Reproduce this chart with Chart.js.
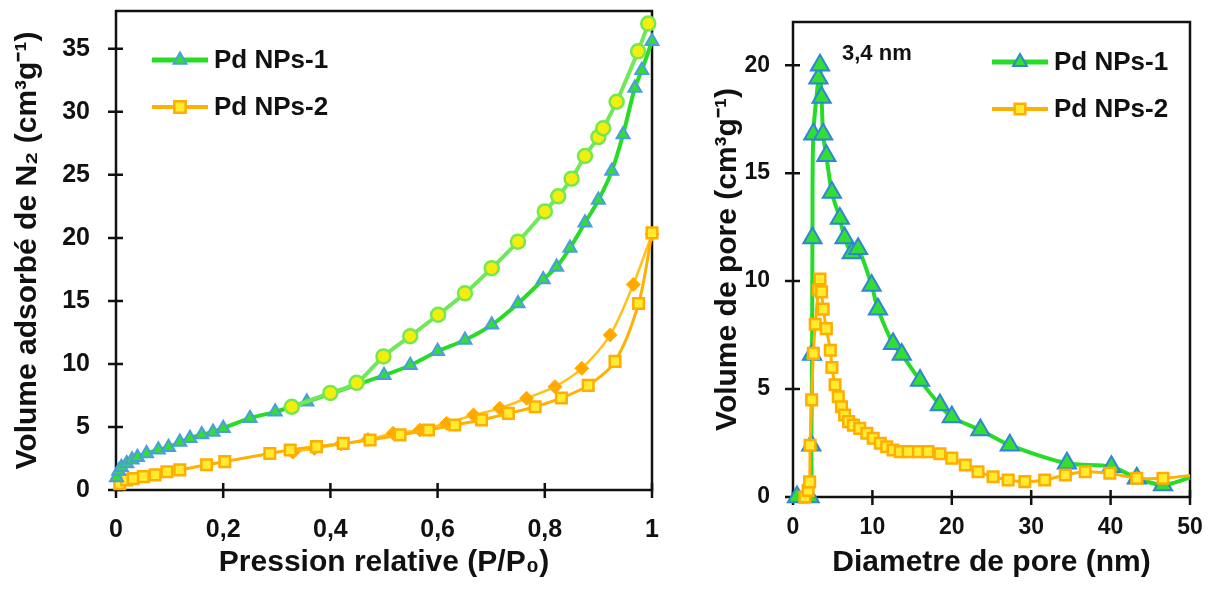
<!DOCTYPE html>
<html>
<head>
<meta charset="utf-8">
<script src="https://cdn.jsdelivr.net/npm/chart.js@4.4.1/dist/chart.umd.min.js"></script>
<style>
  body { margin: 0; background: #fff; }
  #iso { position: absolute; left: 0; top: 0; }
  #psd { position: absolute; left: 690px; top: 0; }
</style>
</head>
<body>
<canvas id="iso" width="670" height="590"></canvas>
<canvas id="psd" width="525" height="590"></canvas>
<script>
// series names and annotation
const seriesNames = ['Pd NPs-1', 'Pd NPs-2'];
const peakLabel = '3,4 nm';

// tick values
const isoXTicks = [0, 0.2, 0.4, 0.6, 0.8, 1];
const isoYTicks = [0, 5, 10, 15, 20, 25, 30, 35];
const psdXTicks = [0, 10, 20, 30, 40, 50];
const psdYTicks = [0, 5, 10, 15, 20];

// isotherms, Pd NPs-1 (adsorption / desorption)
const np1AdsP = [0.001, 0.005, 0.01, 0.02, 0.03, 0.04, 0.057, 0.079, 0.098, 0.119, 0.138, 0.16, 0.181, 0.2, 0.25, 0.297, 0.356, 0.5, 0.549, 0.6, 0.651, 0.701, 0.75, 0.797, 0.822, 0.847, 0.875, 0.9, 0.925, 0.946, 0.968, 0.981, 1.0];
const np1AdsV = [1.0, 1.5, 1.8, 2.1, 2.4, 2.6, 2.9, 3.2, 3.4, 3.8, 4.1, 4.4, 4.6, 4.9, 5.7, 6.2, 7.0, 9.1, 9.9, 11.0, 11.9, 13.1, 14.8, 16.7, 17.7, 19.2, 21.2, 23.0, 25.3, 28.2, 31.9, 33.3, 35.6];
const np1DesP = [0.328, 0.4, 0.449, 0.499, 0.549, 0.601, 0.651, 0.701, 0.75, 0.8, 0.825, 0.85, 0.875, 0.9, 0.909, 0.934, 0.974, 0.993];
const np1DesV = [6.6, 7.7, 8.5, 10.6, 12.2, 13.9, 15.6, 17.6, 19.7, 22.1, 23.3, 24.7, 26.5, 28.0, 28.7, 30.8, 34.8, 37.0];

// isotherms, Pd NPs-2
const np2AdsP = [0.007, 0.02, 0.032, 0.051, 0.073, 0.095, 0.119, 0.169, 0.203, 0.287, 0.325, 0.374, 0.424, 0.474, 0.53, 0.583, 0.632, 0.682, 0.732, 0.782, 0.831, 0.881, 0.931, 0.975, 1.0];
const np2AdsV = [0.5, 0.8, 0.9, 1.06, 1.2, 1.45, 1.6, 2.0, 2.25, 2.9, 3.17, 3.44, 3.7, 3.97, 4.37, 4.76, 5.16, 5.56, 6.08, 6.6, 7.3, 8.3, 10.2, 14.8, 20.4];
const np2DesP = [0.33, 0.37, 0.42, 0.47, 0.517, 0.567, 0.617, 0.667, 0.716, 0.766, 0.819, 0.869, 0.922, 0.965, 1.0];
const np2DesV = [3.0, 3.3, 3.65, 4.0, 4.5, 4.76, 5.29, 5.95, 6.48, 7.28, 8.2, 9.65, 12.3, 16.3, 20.3];

// pore size distribution
const psd1D = [0.5, 2.1, 2.3, 2.4, 2.45, 2.56, 3.2, 3.4, 3.6, 3.8, 4.2, 4.9, 5.9, 6.5, 7.4, 8.2, 9.9, 10.7, 12.6, 13.7, 16.0, 18.5, 20.0, 23.6, 27.3, 34.5, 40.1, 43.3, 46.6, 50];
const psd1V = [0, 0, 2.4, 6.6, 12.0, 16.8, 19.4, 20.0, 18.5, 16.8, 15.8, 14.1, 12.9, 12.0, 11.3, 11.5, 9.8, 8.7, 7.1, 6.6, 5.4, 4.26, 3.7, 3.1, 2.4, 1.56, 1.4, 0.87, 0.56, 0.9];
const psd2D = [1.5, 1.9, 2.1, 2.15, 2.35, 2.56, 2.8, 3.2, 3.4, 3.6, 3.8, 4.2, 4.7, 4.9, 5.3, 5.7, 6.1, 6.5, 7.0, 7.6, 8.4, 9.3, 10.1, 11.0, 11.8, 12.6, 13.5, 14.5, 15.8, 17.0, 18.5, 20.0, 21.7, 23.3, 25.2, 27.1, 29.2, 31.7, 34.3, 36.8, 39.9, 43.3, 46.6, 50];
const psd2V = [0, 0.3, 0.7, 2.4, 4.5, 6.65, 8.0, 9.6, 10.1, 9.5, 8.7, 7.8, 6.8, 6.0, 5.2, 4.64, 4.18, 3.8, 3.49, 3.33, 3.18, 2.95, 2.72, 2.49, 2.33, 2.18, 2.1, 2.1, 2.1, 2.1, 2.0, 1.8, 1.48, 1.17, 0.94, 0.79, 0.71, 0.79, 1.02, 1.17, 1.1, 0.87, 0.87, 1.0];

const FONT = "'Liberation Sans', Arial, sans-serif";
const pts = (xs, ys) => xs.map((x, i) => ({x: x, y: ys[i]}));
const comma = v => String(v).replace('.', ',');

// box round the plot area, ticks crossing the axes
const framePlugin = {
  id: 'frame',
  beforeDatasetsDraw(chart) {
    const {ctx, chartArea: a} = chart;
    const x = chart.scales.x, y = chart.scales.y;
    ctx.save();
    ctx.strokeStyle = '#111';
    ctx.lineWidth = 2.5;
    ctx.strokeRect(a.left, a.top, a.right - a.left, a.bottom - a.top);
    ctx.beginPath();
    x.ticks.forEach(t => {
      const px = x.getPixelForValue(t.value);
      ctx.moveTo(px, a.bottom - 7); ctx.lineTo(px, a.bottom + 8);
    });
    y.ticks.forEach(t => {
      const py = y.getPixelForValue(t.value);
      ctx.moveTo(a.left - 8, py); ctx.lineTo(a.left + 7, py);
    });
    ctx.stroke();
    ctx.restore();
  }
};

// legend with line + marker, and optional note
const boxLegend = {
  id: 'boxLegend',
  afterDraw(chart, args, opts) {
    const ctx = chart.ctx;
    ctx.save();
    opts.items.forEach((it, i) => {
      const y = opts.y + i * opts.gap;
      ctx.strokeStyle = it.line;
      ctx.lineWidth = it.lineWidth;
      ctx.beginPath();
      ctx.moveTo(opts.x, y); ctx.lineTo(opts.x + opts.len, y);
      ctx.stroke();
      ctx.fillStyle = it.fill;
      ctx.strokeStyle = it.border;
      ctx.lineWidth = it.borderWidth;
      Chart.helpers.drawPoint(ctx, {pointStyle: it.style, radius: it.radius, rotation: 0, borderWidth: it.borderWidth}, opts.x + opts.len / 2, y);
      ctx.fillStyle = '#111';
      ctx.font = 'bold ' + opts.fontSize + 'px ' + FONT;
      ctx.textBaseline = 'middle';
      ctx.textAlign = 'left';
      ctx.fillText(it.text, opts.x + opts.len + 6, y + 1);
    });
    if (opts.note) {
      ctx.fillStyle = '#111';
      ctx.font = 'bold 22px ' + FONT;
      ctx.textBaseline = 'middle';
      ctx.fillText(opts.note.text, opts.note.x, opts.note.y);
    }
    ctx.restore();
  }
};

// drop the label overflow padding so the plot box lands where the layout padding says
const noPad = s => { s.paddingTop = 0; s.paddingBottom = 0; s.paddingLeft = 0; s.paddingRight = 0; };

function axes(xT, yT, xMax, yMax, o) {
  return {
    x: {
      type: 'linear', min: 0, max: xMax,
      afterBuildTicks: s => { s.ticks = xT.map(v => ({value: v})); },
      afterFit: s => { s.height = o.xH; noPad(s); },
      grid: {display: false}, border: {display: false},
      ticks: {callback: comma, color: '#111', padding: o.xPad, maxRotation: 0, font: {family: FONT, size: o.tick, weight: 'bold'}},
      title: {display: true, text: o.xTitle, color: '#111', padding: {top: 0, bottom: 9}, font: {family: FONT, size: 30, weight: 'bold'}}
    },
    y: {
      type: 'linear', min: 0, max: yMax,
      afterBuildTicks: s => { s.ticks = yT.map(v => ({value: v})); },
      afterFit: s => { s.width = o.yW; noPad(s); },
      grid: {display: false}, border: {display: false},
      ticks: {callback: comma, color: '#111', padding: o.yPad, font: {family: FONT, size: o.tick, weight: 'bold'}},
      title: {display: true, text: o.yTitle, color: '#111', padding: {top: o.yTitlePad, bottom: 0}, font: {family: FONT, size: 30, weight: 'bold'}}
    }
  };
}

new Chart(document.getElementById('iso'), {
  type: 'scatter',
  data: {
    datasets: [
      {data: pts(np1DesP, np1DesV), showLine: true, tension: 0.3, clip: false,
       borderColor: '#6fe85a', borderWidth: 4, pointStyle: 'circle', pointRadius: 7,
       pointBackgroundColor: '#f4ee10', pointBorderColor: '#74e84c', pointBorderWidth: 2.5},
      {data: pts(np1AdsP, np1AdsV), showLine: true, tension: 0.3, clip: false,
       borderColor: '#27dc27', borderWidth: 4, pointStyle: 'triangle', pointRadius: 7.5,
       pointBackgroundColor: '#33dd33', pointBorderColor: '#4a9ee0', pointBorderWidth: 2},
      {data: pts(np2AdsP, np2AdsV), showLine: true, tension: 0.3, clip: false,
       borderColor: '#ffb000', borderWidth: 3, pointStyle: 'rect', pointRadius: 7.5,
       pointBackgroundColor: '#ffec30', pointBorderColor: '#ffad00', pointBorderWidth: 2.5},
      {data: pts(np2DesP, np2DesV), showLine: true, tension: 0.3, clip: false,
       borderColor: '#ffc21a', borderWidth: 2.5, pointStyle: 'rectRot', pointRadius: 7,
       pointBackgroundColor: '#ffa800', pointBorderColor: '#ffb000', pointBorderWidth: 1}
    ]
  },
  options: {
    responsive: false, animation: false,
    layout: {padding: {top: 11, right: 18, left: 0, bottom: 0}},
    scales: axes(isoXTicks, isoYTicks, 1, 38, {
      xH: 100, yW: 116, xPad: 17, yPad: 18, tick: 25, yTitlePad: 10,
      xTitle: 'Pression relative (P/P\u2080)',
      yTitle: 'Volume adsorb\u00e9 de N\u2082 (cm\u00b3g\u207b\u00b9)'
    }),
    plugins: {
      legend: {display: false}, tooltip: {enabled: false},
      boxLegend: {x: 152, y: 60, gap: 47, len: 56, fontSize: 26, items: [
        {text: seriesNames[0], line: '#27dc27', lineWidth: 5, style: 'triangle', radius: 7.5, fill: '#33dd33', border: '#4a9ee0', borderWidth: 2},
        {text: seriesNames[1], line: '#ffb000', lineWidth: 4, style: 'rect', radius: 8, fill: '#ffec30', border: '#ffad00', borderWidth: 2.5}
      ]}
    }
  },
  plugins: [framePlugin, boxLegend]
});

new Chart(document.getElementById('psd'), {
  type: 'scatter',
  data: {
    datasets: [
      {data: pts(psd2D, psd2V), showLine: true, tension: 0.3, clip: false,
       borderColor: '#ffb000', borderWidth: 3, pointStyle: 'rect',
       pointRadius: c => c.dataIndex === psd2D.length - 1 ? 0 : 7.5,
       pointBackgroundColor: '#ffec30', pointBorderColor: '#ffad00', pointBorderWidth: 2.5},
      {data: pts(psd1D, psd1V), showLine: true, tension: 0.3, clip: false,
       borderColor: '#27dc27', borderWidth: 4, pointStyle: 'triangle',
       pointRadius: c => c.dataIndex === psd1D.length - 1 ? 0 : 10.5,
       pointBackgroundColor: '#33dd33', pointBorderColor: '#2f86d6', pointBorderWidth: 2}
    ]
  },
  options: {
    responsive: false, animation: false,
    layout: {padding: {top: 22, right: 25, left: 0, bottom: 0}},
    scales: axes(psdXTicks, psdYTicks, 50, 22, {
      xH: 93, yW: 103, xPad: 9, yPad: 15, tick: 23, yTitlePad: 20,
      xTitle: 'Diametre de pore (nm)',
      yTitle: 'Volume de pore (cm\u00b3g\u207b\u00b9)'
    }),
    plugins: {
      legend: {display: false}, tooltip: {enabled: false},
      boxLegend: {x: 302, y: 62, gap: 47, len: 56, fontSize: 26,
        note: {text: peakLabel, x: 152, y: 54},
        items: [
          {text: seriesNames[0], line: '#27dc27', lineWidth: 5, style: 'triangle', radius: 8, fill: '#33dd33', border: '#2f86d6', borderWidth: 2},
          {text: seriesNames[1], line: '#ffb000', lineWidth: 4, style: 'rect', radius: 7.5, fill: '#ffec30', border: '#ffad00', borderWidth: 2.5}
        ]}
    }
  },
  plugins: [framePlugin, boxLegend]
});
</script>
</body>
</html>
